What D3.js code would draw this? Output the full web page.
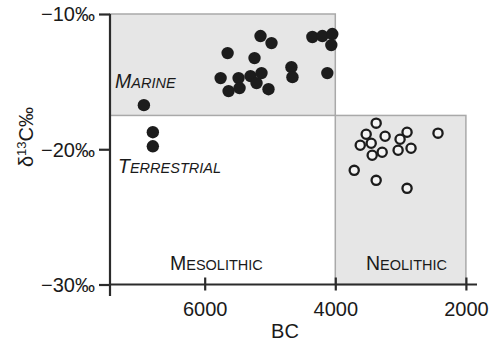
<!DOCTYPE html>
<html><head><meta charset="utf-8">
<script src="https://cdn.jsdelivr.net/npm/d3@7"></script>
<style>body{margin:0;background:#fff}svg{display:block;font-family:"Liberation Sans",Arial,sans-serif}</style>
</head><body>
<svg id="c" width="497" height="344"></svg>
<script>
// Data (years BC, delta13C per mil)
const mesolithicYears = [6931,6794,6794,5756,5649,5634,5481,5466,5298,5237,5206,5145,5130,5023,4977,4672,4656,4351,4198,4046,4061,4122];
const mesolithicD13C  = [-16.74,-18.74,-19.78,-14.74,-12.89,-15.70,-14.74,-15.48,-14.59,-13.26,-15.11,-11.63,-14.37,-15.56,-12.15,-13.93,-14.67,-11.70,-11.63,-11.48,-12.30,-14.37];
const neolithicYears  = [3374,3527,3237,2901,3008,2427,3618,3450,3435,3282,3038,2840,3710,3374,2901];
const neolithicD13C   = [-18.07,-18.89,-19.04,-18.74,-19.26,-18.81,-19.70,-19.56,-20.44,-20.22,-20.07,-19.93,-21.56,-22.30,-22.89];
const xTicks = [6000,4000,2000];
const yTicks = [-10,-20,-30];
const marineBoundary = -17.5;
const periodBoundary = 4000;
const xStart = 7450, xEnd = 1830, neoEnd = 2000;

const svg = d3.select("#c");
const x = d3.scaleLinear().domain([xStart, xEnd]).range([110, 477]);
const y = d3.scaleLinear().domain([-30, -10]).range([284.5, 14]);
const ink = "#2b2b2b";

// shaded boxes
svg.append("rect").attr("x", x(xStart)).attr("y", y(-10))
  .attr("width", x(periodBoundary)-x(xStart)).attr("height", y(marineBoundary)-y(-10))
  .attr("fill","#e6e6e6").attr("stroke","#a9a9a9").attr("stroke-width",1.5);
svg.append("rect").attr("x", x(periodBoundary)).attr("y", y(marineBoundary))
  .attr("width", x(neoEnd)-x(periodBoundary)).attr("height", y(-30)-y(marineBoundary))
  .attr("fill","#e6e6e6").attr("stroke","#a9a9a9").attr("stroke-width",1.5);

// axes
const yAxis = d3.axisLeft(y).tickValues(yTicks).tickSize(11).tickFormat(d => "\u2212" + Math.abs(d) + "\u2030");
const gy = svg.append("g").attr("transform",`translate(${x(xStart)},0)`).call(yAxis);
gy.select(".domain").attr("d", `M0,${y(-10)}V296`).attr("stroke",ink).attr("stroke-width",2.2);
gy.selectAll(".tick line").attr("stroke",ink).attr("stroke-width",2.2);
gy.selectAll(".tick text").attr("fill","#1a1a1a").attr("font-size",20).attr("x",-15).attr("dy","0.34em");

const xAxis = d3.axisBottom(x).tickValues(xTicks).tickSize(6).tickFormat(d3.format("d"));
const gx = svg.append("g").attr("transform",`translate(0,${y(-30)})`).call(xAxis);
gx.select(".domain").attr("d", `M${x(xStart)},0H${x(xEnd)}`).attr("stroke",ink).attr("stroke-width",2.2);
gx.selectAll(".tick line").attr("y1",-7).attr("y2",6).attr("stroke",ink).attr("stroke-width",2.2);
gx.selectAll(".tick text").attr("fill","#1a1a1a").attr("font-size",20).attr("y",17).attr("dy","0.71em");

// axis titles
svg.append("text").attr("x", 285).attr("y", 338).attr("text-anchor","middle")
  .attr("font-size",20).attr("fill","#1a1a1a").text("BC");
const yl = svg.append("text").attr("transform","translate(33,137) rotate(-90)")
  .attr("text-anchor","middle").attr("font-size",20).attr("fill","#1a1a1a");
yl.append("tspan").text("\u03b4");
yl.append("tspan").attr("font-size",13).attr("dy",-7).text("13");
yl.append("tspan").attr("dy",7).text("C\u2030");

// small-caps labels
function smallCaps(px, py, first, rest, italic){
  const t = svg.append("text").attr("x",px).attr("y",py).attr("fill","#1a1a1a")
    .attr("font-style", italic ? "italic" : "normal");
  t.append("tspan").attr("font-size",19.5).text(first);
  t.append("tspan").attr("font-size",14.5).text(rest);
}
smallCaps(115, 88, "M", "ARINE", true);
smallCaps(118, 173, "T", "ERRESTRIAL", true);
smallCaps(170, 270, "M", "ESOLITHIC", false);
smallCaps(366, 270, "N", "EOLITHIC", false);

// points
svg.append("g").selectAll("circle").data(d3.range(mesolithicYears.length)).join("circle")
  .attr("cx", i => x(mesolithicYears[i])).attr("cy", i => y(mesolithicD13C[i]))
  .attr("r", 6.2).attr("fill","#1c1c1c");
svg.append("g").selectAll("circle").data(d3.range(neolithicYears.length)).join("circle")
  .attr("cx", i => x(neolithicYears[i])).attr("cy", i => y(neolithicD13C[i]))
  .attr("r", 4.6).attr("fill","#f4f4f4").attr("stroke","#1c1c1c").attr("stroke-width",2.3);
</script>
</body></html>
